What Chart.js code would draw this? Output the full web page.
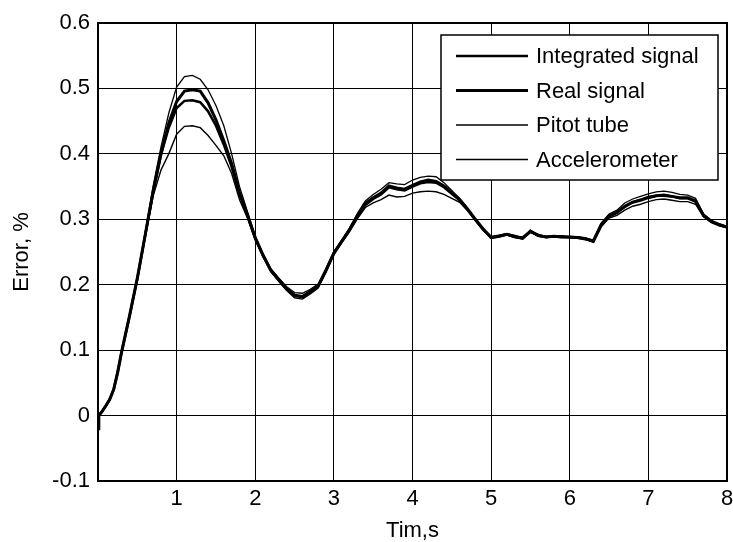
<!DOCTYPE html>
<html>
<head>
<meta charset="utf-8">
<script src="https://cdn.jsdelivr.net/npm/chart.js@4/dist/chart.umd.min.js"></script>
<style>
  html, body { margin: 0; padding: 0; background: #fff; }
  #wrap { width: 733px; height: 542px; position: relative; }
</style>
</head>
<body>
<div id="wrap"><canvas id="chart"></canvas></div>
<script>
// time axis, seconds
const times = [0, 0.01, 0.05, 0.1, 0.15, 0.2, 0.25, 0.3, 0.4, 0.5,
  0.6, 0.7, 0.8, 0.9, 1.0, 1.1, 1.2, 1.3, 1.4, 1.5,
  1.6, 1.7, 1.8, 1.9, 2.0, 2.1, 2.2, 2.3, 2.4, 2.5,
  2.6, 2.7, 2.8, 2.9, 3.0, 3.1, 3.2, 3.3, 3.4, 3.5,
  3.6, 3.7, 3.8, 3.9, 4.0, 4.1, 4.2, 4.3, 4.4, 4.5,
  4.6, 4.7, 4.8, 4.9, 5.0, 5.1, 5.2, 5.3, 5.4, 5.5,
  5.6, 5.7, 5.8, 5.9, 6.0, 6.1, 6.2, 6.3, 6.4, 6.5,
  6.6, 6.7, 6.8, 6.9, 7.0, 7.1, 7.2, 7.3, 7.4, 7.5,
  7.6, 7.7, 7.8, 7.9, 8.0];

const integrated = [-0.02, 0.0, 0.006, 0.015, 0.025, 0.04, 0.066, 0.097, 0.151, 0.209,
  0.275, 0.34, 0.398, 0.44, 0.47, 0.481, 0.482, 0.479, 0.465, 0.443,
  0.414, 0.38, 0.338, 0.306, 0.271, 0.244, 0.221, 0.207, 0.193, 0.183,
  0.181, 0.189, 0.198, 0.223, 0.249, 0.267, 0.285, 0.306, 0.322, 0.331,
  0.338, 0.349, 0.346, 0.344, 0.35, 0.355, 0.357, 0.356, 0.349, 0.339,
  0.329, 0.315, 0.299, 0.284, 0.273, 0.275, 0.277, 0.273, 0.272, 0.281,
  0.276, 0.273, 0.274, 0.274, 0.272, 0.272, 0.271, 0.266, 0.29, 0.304,
  0.311, 0.319, 0.326, 0.33, 0.334, 0.336, 0.336, 0.335, 0.332, 0.332,
  0.327, 0.307, 0.297, 0.291, 0.288];

const real = [-0.02, 0.0, 0.006, 0.015, 0.025, 0.04, 0.066, 0.097, 0.152, 0.21,
  0.276, 0.342, 0.40, 0.447, 0.48, 0.496, 0.498, 0.496, 0.478, 0.452,
  0.42, 0.385, 0.34, 0.307, 0.272, 0.245, 0.222, 0.208, 0.194, 0.184,
  0.182, 0.19, 0.198, 0.222, 0.248, 0.266, 0.284, 0.305, 0.324, 0.333,
  0.34, 0.351, 0.348, 0.346, 0.352, 0.357, 0.36, 0.358, 0.351, 0.34,
  0.33, 0.316, 0.30, 0.285, 0.272, 0.274, 0.277, 0.274, 0.271, 0.282,
  0.275, 0.273, 0.274, 0.273, 0.273, 0.272, 0.27, 0.267, 0.292, 0.305,
  0.31, 0.32, 0.326, 0.329, 0.333, 0.336, 0.337, 0.335, 0.333, 0.333,
  0.328, 0.306, 0.297, 0.292, 0.288];

const pitot = [-0.02, 0.0, 0.006, 0.015, 0.026, 0.041, 0.067, 0.098, 0.153, 0.212,
  0.28, 0.35, 0.41, 0.462, 0.502, 0.518, 0.52, 0.514, 0.498, 0.474,
  0.443, 0.40, 0.35, 0.312, 0.274, 0.247, 0.224, 0.21, 0.197, 0.188,
  0.187, 0.193, 0.201, 0.224, 0.25, 0.268, 0.287, 0.309, 0.328, 0.338,
  0.346, 0.356, 0.354, 0.353, 0.36, 0.364, 0.366, 0.365, 0.356, 0.344,
  0.332, 0.317, 0.301, 0.286, 0.273, 0.275, 0.278, 0.275, 0.272, 0.283,
  0.276, 0.274, 0.275, 0.274, 0.274, 0.273, 0.271, 0.268, 0.294, 0.308,
  0.314, 0.325, 0.331, 0.335, 0.339, 0.342, 0.343, 0.341, 0.338, 0.337,
  0.332, 0.308, 0.298, 0.293, 0.289];

const accel = [-0.02, 0.0, 0.006, 0.014, 0.024, 0.039, 0.065, 0.096, 0.15, 0.207,
  0.272, 0.335, 0.375, 0.40, 0.43, 0.442, 0.443, 0.44, 0.428, 0.413,
  0.397, 0.37, 0.33, 0.302, 0.268, 0.243, 0.22, 0.205, 0.191, 0.18,
  0.178, 0.186, 0.195, 0.219, 0.246, 0.264, 0.281, 0.301, 0.318, 0.325,
  0.33, 0.337, 0.334, 0.335, 0.34, 0.342, 0.343, 0.342, 0.338, 0.332,
  0.326, 0.313, 0.298, 0.283, 0.271, 0.273, 0.276, 0.272, 0.27, 0.28,
  0.274, 0.272, 0.273, 0.272, 0.272, 0.271, 0.269, 0.265, 0.289, 0.302,
  0.306, 0.314, 0.32, 0.323, 0.327, 0.33, 0.331, 0.329, 0.327, 0.327,
  0.323, 0.304, 0.295, 0.29, 0.287];

const seriesNames = ['Integrated signal', 'Real signal', 'Pitot tube', 'Accelerometer'];
const yTicks = [-0.1, 0, 0.1, 0.2, 0.3, 0.4, 0.5, 0.6];
const xTicks = [0, 1, 2, 3, 4, 5, 6, 7, 8];

const FONT = 'Liberation Sans, Arial, Helvetica, sans-serif';
Chart.defaults.font.family = FONT;
Chart.defaults.font.size = 22;
Chart.defaults.color = '#000';

function pts(vals) {
    return times.map((t, i) => ({ x: t, y: vals[i] }));
}

// legend box inside the axes, plus the black axes frame
const boxLegend = {
    id: 'boxLegend',
    afterDatasetsDraw(chart) {
        const ctx = chart.ctx;
        const area = chart.chartArea;
        ctx.save();
        ctx.strokeStyle = '#000';
        ctx.lineWidth = 2;
        ctx.strokeRect(area.left, area.top, area.right - area.left, area.bottom - area.top);

        const w = 277, h = 145;
        const bx = area.right - 9 - w;
        const by = area.top + 12;
        ctx.fillStyle = '#fff';
        ctx.fillRect(bx, by, w, h);
        ctx.lineWidth = 1.5;
        ctx.strokeRect(bx, by, w, h);

        ctx.font = '22px ' + FONT;
        ctx.textBaseline = 'middle';
        ctx.fillStyle = '#000';
        chart.data.datasets.forEach((ds, i) => {
            const cy = by + 21 + i * 34.5;
            ctx.beginPath();
            ctx.lineWidth = ds.borderWidth;
            ctx.moveTo(bx + 15, cy);
            ctx.lineTo(bx + 87, cy);
            ctx.stroke();
            ctx.fillText(ds.label, bx + 95, cy + 1);
        });
        ctx.restore();
    }
};

const widths = [2.5, 3, 1.3, 1.4];
const seriesValues = [integrated, real, pitot, accel];

new Chart(document.getElementById('chart'), {
    type: 'line',
    data: {
        datasets: seriesValues.map((vals, i) => ({
            label: seriesNames[i],
            data: pts(vals),
            borderColor: '#000',
            borderWidth: widths[i],
            pointRadius: 0,
            tension: 0,
            fill: false
        }))
    },
    options: {
        responsive: true,
        maintainAspectRatio: false,
        animation: false,
        layout: { padding: { top: 23, right: 6, left: 0, bottom: 0 } },
        plugins: {
            legend: { display: false },
            tooltip: { enabled: false }
        },
        scales: {
            x: {
                type: 'linear',
                min: 0,
                max: 8,
                afterFit: scale => {
                    scale.height = 61;
                    scale.paddingLeft = 0;
                    scale.paddingRight = 0;
                },
                afterBuildTicks: scale => { scale.ticks = xTicks.map(v => ({ value: v })); },
                ticks: {
                    padding: 5,
                    callback: v => (v === 0 ? '' : String(v))
                },
                grid: { color: '#000', lineWidth: 1, drawTicks: false },
                border: { display: false },
                title: {
                    display: true,
                    text: 'Tim,s',
                    font: { size: 22, lineHeight: 1 },
                    padding: { top: 0, bottom: 0 }
                }
            },
            y: {
                min: -0.1,
                max: 0.6,
                afterFit: scale => {
                    scale.width = 98;
                    scale.paddingTop = 0;
                    scale.paddingBottom = 0;
                },
                afterBuildTicks: scale => { scale.ticks = yTicks.map(v => ({ value: v })); },
                ticks: {
                    padding: 8,
                    callback: v => String(Math.round(v * 10) / 10)
                },
                grid: { color: '#000', lineWidth: 1, drawTicks: false },
                border: { display: false },
                title: {
                    display: true,
                    text: 'Error, %',
                    font: { size: 22 },
                    padding: { top: 9, bottom: 0 }
                }
            }
        }
    },
    plugins: [boxLegend]
});
</script>
</body>
</html>
